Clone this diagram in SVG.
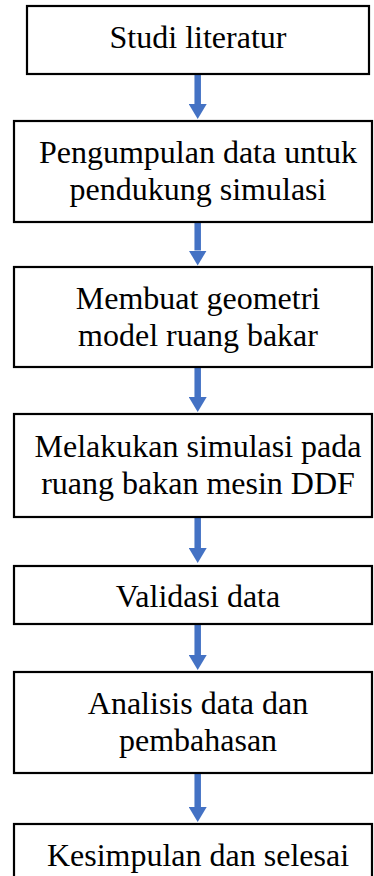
<svg xmlns="http://www.w3.org/2000/svg" width="374" height="876" viewBox="0 0 374 876">
<defs>
<style>
.box{fill:#fff;stroke:#000;stroke-width:2.2}
.t{font-family:'Liberation Serif','Times New Roman',serif;font-size:32px;fill:#000;text-anchor:middle}
.c{stroke:#4472C4;stroke-width:6.5;fill:none}
</style>
<marker id="ah" markerUnits="userSpaceOnUse" viewBox="0 0 15 18" markerWidth="15" markerHeight="18" refX="0" refY="9" orient="auto">
<path d="M0,0 L15,9 L0,18 z" fill="#4472C4"/>
</marker>
</defs>
<rect width="374" height="876" fill="#fff"/>
<g id="connectors">
<line class="c" x1="197.7" y1="75" x2="197.7" y2="104" marker-end="url(#ah)"/>
<line class="c" x1="197.7" y1="223" x2="197.7" y2="250.5" marker-end="url(#ah)"/>
<line class="c" x1="197.7" y1="368" x2="197.7" y2="397" marker-end="url(#ah)"/>
<line class="c" x1="197.7" y1="518" x2="197.7" y2="548" marker-end="url(#ah)"/>
<line class="c" x1="197.7" y1="625" x2="197.7" y2="655" marker-end="url(#ah)"/>
<line class="c" x1="197.7" y1="774" x2="197.7" y2="807" marker-end="url(#ah)"/>
</g>
<g id="n1">
<rect class="box" x="27" y="6" width="342" height="68"/>
<text class="t" x="198" y="48">Studi literatur</text>
</g>
<g id="n2">
<rect class="box" x="14" y="121" width="358" height="101"/>
<text class="t" x="198" y="162.5">Pengumpulan data untuk</text>
<text class="t" x="198" y="199.5">pendukung simulasi</text>
</g>
<g id="n3">
<rect class="box" x="14" y="267" width="358" height="100"/>
<text class="t" x="198" y="309.3">Membuat geometri</text>
<text class="t" x="198" y="346">model ruang bakar</text>
</g>
<g id="n4">
<rect class="box" x="14" y="414" width="358" height="103"/>
<text class="t" x="198" y="456.5">Melakukan simulasi pada</text>
<text class="t" x="198" y="494">ruang bakan mesin DDF</text>
</g>
<g id="n5">
<rect class="box" x="14" y="566" width="358" height="58"/>
<text class="t" x="198" y="607">Validasi data</text>
</g>
<g id="n6">
<rect class="box" x="14" y="672" width="358" height="101"/>
<text class="t" x="198" y="714">Analisis data dan</text>
<text class="t" x="198" y="751">pembahasan</text>
</g>
<g id="n7">
<rect class="box" x="14" y="824" width="358" height="80"/>
<text class="t" x="198" y="866">Kesimpulan dan selesai</text>
</g>
</svg>
